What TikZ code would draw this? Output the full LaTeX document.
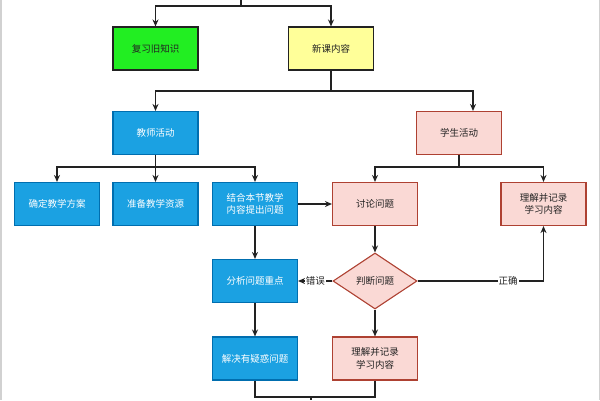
\documentclass[tikz,border=0pt]{standalone}
\usepackage{fontspec}
\usepackage{tikz}
\usetikzlibrary{arrows.meta,calc,positioning,shapes.geometric}
\newfontfamily\cjk{Noto Sans CJK SC}
\definecolor{grnfill}{HTML}{22EE22}
\definecolor{ylwfill}{HTML}{FFFF99}
\definecolor{bluefill}{HTML}{1BA1E2}
\definecolor{bluedraw}{HTML}{006EAF}
\definecolor{pinkfill}{HTML}{FAD9D5}
\definecolor{pinkdraw}{HTML}{AE4132}
\definecolor{ink}{HTML}{222222}
\begin{document}
\begin{tikzpicture}[x=1pt,y=-1pt,font=\cjk\fontsize{9.5pt}{12.5pt}\selectfont,
 box/.style={rectangle,minimum width=85pt,minimum height=43pt,inner sep=2pt,align=center,line width=1.1pt},
 darkbox/.style={box,draw=ink,text=ink},
 bluebox/.style={box,fill=bluefill,draw=bluedraw,text=white},
 pinkbox/.style={box,fill=pinkfill,draw=pinkdraw,text=ink},
 link/.style={draw=ink,line width=1.2pt},
 arr/.style={link,-{Stealth[length=7pt,width=6pt]}},
 lbl/.style={fill=white,inner sep=1pt,text=ink}]
\useasboundingbox (0,0) rectangle (600,400);
\draw[black!18,line width=1.5pt] (0.75,0)--(0.75,400);
\draw[black!18,line width=1.5pt] (599.25,0)--(599.25,400);
\node[darkbox,fill=grnfill] (review) at (155.5,48.5) {复习旧知识};
\node[darkbox,fill=ylwfill] (newc) at (331,48.5) {新课内容};
\node[bluebox] (teacher) at (155.5,133) {教师活动};
\node[pinkbox] (student) at (459,133) {学生活动};
\node[bluebox] (plan) at (57,204) {确定教学方案};
\node[bluebox] (res) at (155.5,204) {准备教学资源};
\node[bluebox] (ask) at (255,204) {结合本节教学\\内容提出问题};
\node[pinkbox] (discuss) at (375,204) {讨论问题};
\node[pinkbox] (record) at (543.5,204) {理解并记录\\学习内容};
\node[bluebox] (analyse) at (255,281) {分析问题重点};
\node[diamond,aspect=1.5,minimum width=84pt,minimum height=56pt,inner sep=0pt,fill=pinkfill,draw=pinkdraw,line width=1.1pt,text=ink] (judge) at (375,281) {判断问题};
\node[bluebox] (solve) at (255,358.5) {解决有疑惑问题};
\node[pinkbox] (note) at (375,358.5) {理解并记录\\学习内容};
\coordinate (in) at (241,0);
\coordinate (j1) at (241,6);
\coordinate (j2) at (331,91);
\coordinate (j3) at (155.5,167);
\coordinate (j4) at (459,167);
\coordinate (j5) at (311,397);
\coordinate (out) at (311,400);
\draw[link] (in)--(j1);
\draw[arr] (j1) -| (review);
\draw[arr] (j1) -| (newc);
\draw[link] (newc)--(j2);
\draw[arr] (j2) -| (teacher);
\draw[arr] (j2) -| ([xshift=14pt]student.north);
\draw[link] (teacher)--(j3);
\foreach \n in {plan,res,ask}
 \draw[arr] (j3) -| (\n);
\draw[link] (student)--(j4);
\foreach \n in {discuss,record}
 \draw[arr] (j4) -| (\n);
\draw[arr] (ask)--(discuss);
\draw[arr] (ask)--(analyse);
\draw[arr] (discuss)--(judge);
\draw[arr] (judge)-- node[lbl]{错误} (analyse);
\draw[arr] (judge.east) -| node[lbl,pos=.36]{正确} (record);
\draw[arr] (analyse)--(solve);
\draw[arr] (judge)--(note);
\draw[link] (solve) |- (j5);
\draw[link] (note) |- (j5);
\draw[link] (j5)--(out);
\end{tikzpicture}
\end{document}
